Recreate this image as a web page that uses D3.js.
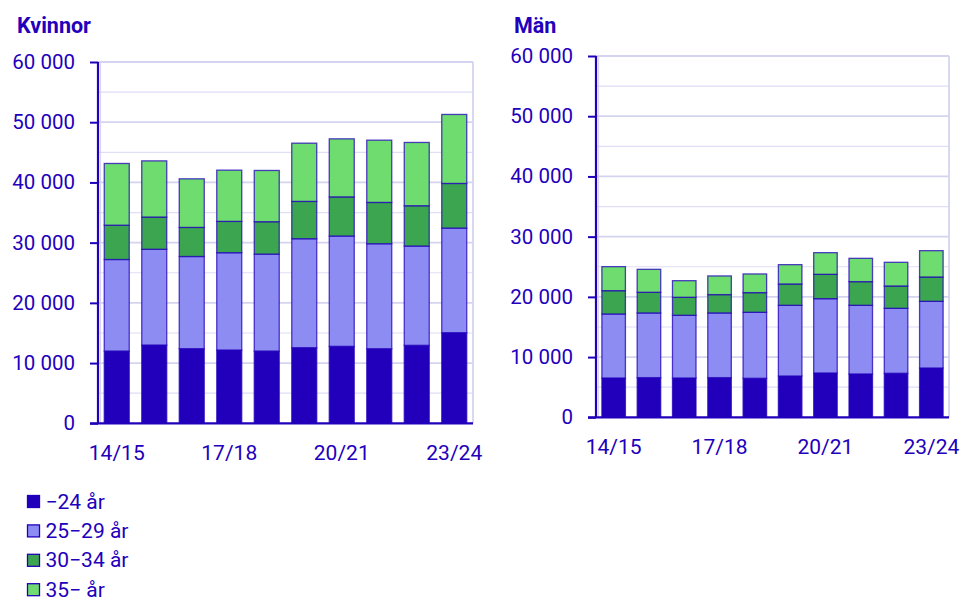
<!DOCTYPE html>
<html><head><meta charset="utf-8">
<script src="https://cdn.jsdelivr.net/npm/d3@7"></script>
<style>
body{margin:0;background:#fff;}
text{font-family:Roboto,"Noto Sans",sans-serif;fill:#2200bb;}
</style></head>
<body>
<svg id="c" width="960" height="598"></svg>
<script>
const categories = ["14/15","15/16","16/17","17/18","18/19","19/20","20/21","21/22","22/23","23/24"];
const xTickLabels = ["14/15","17/18","20/21","23/24"];
const seriesNames = ["−24 år","25−29 år","30−34 år","35− år"];
const seriesKeys = ["a","b","c","d"];
const colors = ["#2200bb","#8c8cf2","#3ca550","#6edc6e"];
const yTicks = [0,10000,20000,30000,40000,50000,60000];

const women24   = [12000,13000,12400,12170,12000,12560,12780,12390,12950,15050];
const women2529 = [15200,15900,15300,16160,16100,18090,18320,17430,16490,17370];
const women3034 = [5700,5350,4830,5200,5380,6200,6500,6860,6690,7410];
const women35   = [10250,9330,8070,8510,8510,9670,9640,10340,10510,11460];

const men24   = [6530,6590,6530,6590,6480,6860,7360,7200,7310,8190];
const men2529 = [10630,10740,10410,10740,10960,11740,12340,11400,10790,11070];
const men3034 = [3870,3430,2990,3045,3265,3540,4045,3930,3710,4040];
const men35   = [3990,3815,2760,3100,3100,3210,3595,3870,3930,4375];

const svg = d3.select("#c");
const fmt = v => d3.format(",")(v).replace(/,/g," ");

function panel(title, titleX, box, vals){
  const {x0,x1,y0,y1} = box;
  const rows = categories.map((c,i)=>({cat:c,a:vals[0][i],b:vals[1][i],c:vals[2][i],d:vals[3][i]}));
  const x = d3.scaleBand().domain(categories).range([x0,x1]).paddingInner(1/3).paddingOuter(1/6);
  const y = d3.scaleLinear().domain([0,60000]).range([y1,y0]);
  const g = svg.append("g");
  g.append("text").attr("x",titleX).attr("y",33).attr("font-size",21.5).attr("font-weight",700).text(title);
  // grid
  const grid = d3.range(5000,60001,5000);
  g.selectAll(".gl").data(grid).join("line")
    .attr("x1",x0).attr("x2",x1).attr("y1",d=>y(d)).attr("y2",d=>y(d))
    .attr("stroke",d=>d%10000===0?"#d4d4f0":"#dedef6").attr("stroke-width",d=>d%10000===0?1.8:1.2);
  g.append("line").attr("x1",x1).attr("x2",x1).attr("y1",y0).attr("y2",y1).attr("stroke","#d4d4f0").attr("stroke-width",1.8);
  g.append("line").attr("x1",x0+2.5).attr("x2",x0+2.5).attr("y1",y0).attr("y2",y1).attr("stroke","#d8d8f2").attr("stroke-width",1.2);
  // bars
  const stack = d3.stack().keys(seriesKeys)(rows);
  g.selectAll(".s").data(stack).join("g").attr("fill",(d,i)=>colors[i])
    .selectAll("rect").data(d=>d).join("rect")
    .attr("x",d=>x(d.data.cat)).attr("width",x.bandwidth())
    .attr("y",d=>y(d[1])).attr("height",d=>y(d[0])-y(d[1]))
    .attr("stroke","#2200bb").attr("stroke-opacity",0.75).attr("stroke-width",1.3);
  // y axis
  const ya = d3.axisLeft(y).tickValues(yTicks).tickSize(8).tickPadding(15).tickFormat(fmt);
  const ag = g.append("g").attr("transform",`translate(${x0},0)`).call(ya);
  ag.select(".domain").attr("stroke","#2200bb").attr("stroke-width",2.2).attr("d",`M0,${y0}V${y1}`);
  ag.selectAll(".tick line").attr("stroke","#2200bb").attr("stroke-width",2);
  ag.selectAll(".tick text").attr("font-size",20.5).attr("fill","#2200bb").attr("font-family","Roboto");
  // x axis
  const xa = d3.axisBottom(x).tickValues(xTickLabels).tickSize(0).tickPadding(22);
  const xg = g.append("g").attr("transform",`translate(0,${y1})`).call(xa);
  xg.select(".domain").attr("stroke","#2200bb").attr("stroke-width",2.2).attr("d",`M${x0-8},0H${x1}`);
  xg.selectAll(".tick text").attr("font-size",21).attr("fill","#2200bb").attr("font-family","Roboto");
}

panel("Kvinnor",17,{x0:98,x1:473,y0:62,y1:423.3},[women24,women2529,women3034,women35]);
panel("Män",514,{x0:596,x1:949,y0:56,y1:417.3},[men24,men2529,men3034,men35]);

// legend
const lg = svg.append("g");
seriesNames.forEach((n,i)=>{
  const cy = 501.5 + i*29.4;
  lg.append("rect").attr("x",27.5).attr("y",cy-6).attr("width",12).attr("height",12)
    .attr("fill",colors[i]).attr("stroke","#2200bb").attr("stroke-width",1.3);
  lg.append("text").attr("x",45.5).attr("y",cy+7).attr("font-size",21).text(n);
});
</script>
</body></html>
